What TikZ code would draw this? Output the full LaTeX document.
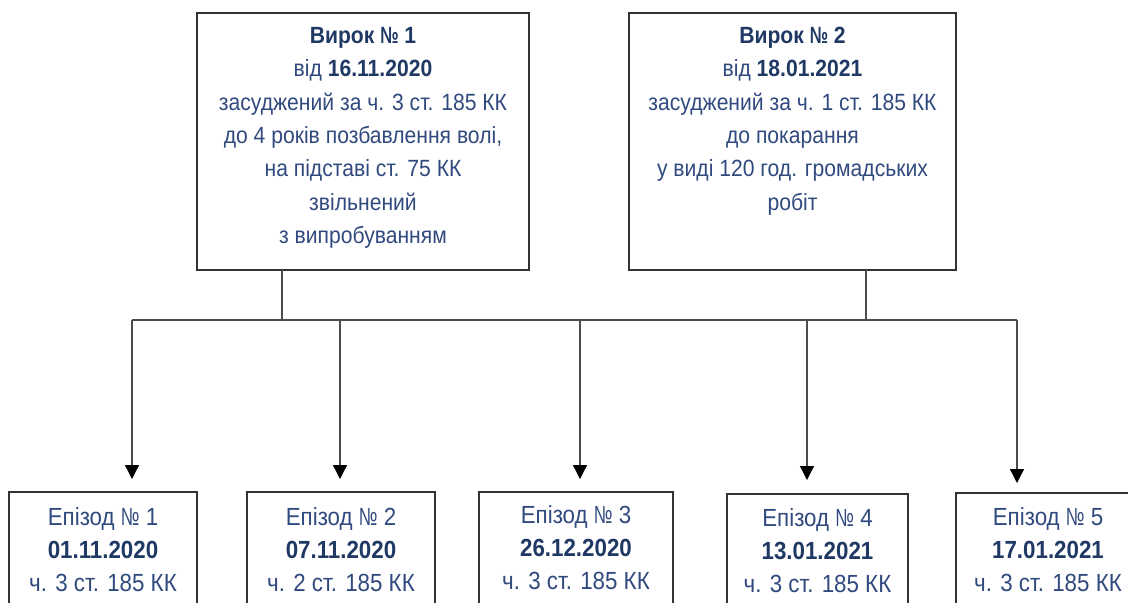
\documentclass[tikz,border=0pt]{standalone}
\usepackage{graphicx}
\usepackage{fontspec}
\setmainfont{Liberation Sans}[FakeStretch=0.9]
\usetikzlibrary{arrows.meta,fit}
\definecolor{txtblue}{HTML}{30497E}
\definecolor{boldblue}{HTML}{1F3864}
\newcommand\bt[1]{\textbf{\color{boldblue}#1}}
\newcommand\nsign{\scalebox{0.78}[1]{№}}
\begin{document}
\begin{tikzpicture}[x=0.75pt,y=-0.75pt,
  box/.style={draw=black!80,line width=1pt,inner sep=0pt},
  txt/.style={text=txtblue,align=center,inner sep=0pt,anchor=north,font=\fontsize{17.6pt}{25pt}\selectfont},
  eptxt/.style={txt,font=\fontsize{18.6pt}{24.8pt}\selectfont},
  conn/.style={draw=black!70,line width=1pt},
  arr/.style={conn,-{Triangle[width=10.5pt,length=10.5pt,color=black]}}]
\useasboundingbox (0,0) rectangle (1128,603);
% top boxes
\node[box,fit={(197,13) (529,270)}] (v1) {};
\node[box,fit={(629,13) (956,270)}] (v2) {};
\node[txt] (v1t) at (363,27) {\bt{Вирок \nsign{} 1}\\від \bt{16.11.2020}\\засуджений за ч. 3 ст. 185 КК\\до 4 років позбавлення волі,\\на підставі ст. 75 КК\\звільнений\\з випробуванням};
\node[txt] (v2t) at (792.5,27) {\bt{Вирок \nsign{} 2}\\від \bt{18.01.2021}\\засуджений за ч. 1 ст. 185 КК\\до покарання\\у виді 120 год. громадських\\робіт};
% episode boxes
\node[box,fit={(9,492) (197,650)}] (e1) {};
\node[box,fit={(247,492) (435,650)}] (e2) {};
\node[box,fit={(479,492) (673,650)}] (e3) {};
\node[box,fit={(727,494) (908,650)}] (e4) {};
\node[box,fit={(956,493) (1140,650)}] (e5) {};
\node[eptxt] (e1t) at (103,507) {Епізод \nsign{} 1\\\bt{01.11.2020}\\ч. 3 ст. 185 КК};
\node[eptxt] (e2t) at (341,507) {Епізод \nsign{} 2\\\bt{07.11.2020}\\ч. 2 ст. 185 КК};
\node[eptxt] (e3t) at (576,505) {Епізод \nsign{} 3\\\bt{26.12.2020}\\ч. 3 ст. 185 КК};
\node[eptxt] (e4t) at (817.5,508) {Епізод \nsign{} 4\\\bt{13.01.2021}\\ч. 3 ст. 185 КК};
\node[eptxt] (e5t) at (1048,507) {Епізод \nsign{} 5\\\bt{17.01.2021}\\ч. 3 ст. 185 КК};
% connector coordinates
\coordinate (s1) at (282,270);
\coordinate (s2) at (866,270);
\coordinate (j1) at (282,320);
\coordinate (j2) at (866,320);
\coordinate (h1) at (132,320);
\coordinate (h2) at (340,320);
\coordinate (h3) at (580,320);
\coordinate (h4) at (807,320);
\coordinate (h5) at (1017,320);
\coordinate (a1) at (132,479);
\coordinate (a2) at (340,479);
\coordinate (a3) at (580,479);
\coordinate (a4) at (807,480);
\coordinate (a5) at (1017,483);
% connectors
\draw[conn] (s1) -- (j1);
\draw[conn] (s2) -- (j2);
\draw[conn] (h1) -- (h5);
\draw[arr] (h1) -- (a1);
\draw[arr] (h2) -- (a2);
\draw[arr] (h3) -- (a3);
\draw[arr] (h4) -- (a4);
\draw[arr] (h5) -- (a5);
\end{tikzpicture}
\end{document}
